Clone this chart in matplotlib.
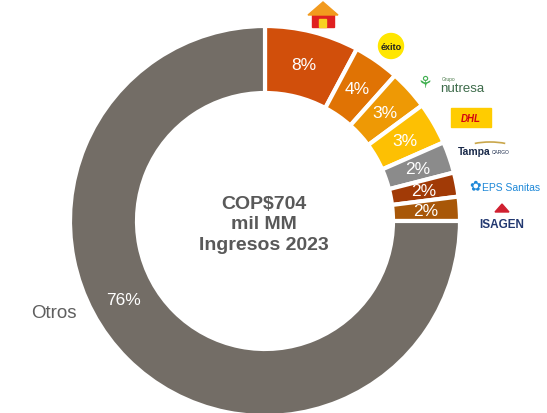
import numpy as np
import matplotlib.pyplot as plt
from matplotlib.patches import Circle, Rectangle, Polygon, Arc

plt.rcParams['font.family'] = ['Liberation Sans', 'DejaVu Sans']

# Data (slice sizes, labels as printed)
companies = ['Homecenter', 'éxito', 'nutresa', 'DHL', 'Tampa', 'EPS Sanitas', 'ISAGEN', 'Otros']
shares = [7.8, 3.8, 3.3, 3.5, 2.6, 2.0, 2.0, 75.0]
labels = ['8%', '4%', '3%', '3%', '2%', '2%', '2%', '76%']
colors = ['#D14F0B', '#E07304', '#EE9905', '#FDC003', '#8B8B8B', '#A13A06', '#A85708', '#736D66']

W, H = 547, 414
fig = plt.figure(figsize=(W / 100, H / 100), dpi=100)
ax = fig.add_axes([0, 0, 1, 1])

cx, cy = 265, H - 222
r_out, ring = 195, 67

wedges, _ = ax.pie(shares, colors=colors, startangle=90, counterclock=False,
                   center=(cx, cy), radius=r_out, frame=True,
                   wedgeprops=dict(width=ring, edgecolor='white', linewidth=3))
ax.set_xlim(0, W)
ax.set_ylim(0, H)
ax.set_aspect('equal')
ax.axis('off')

# percentage labels in the middle of the ring
r_lab = r_out - ring / 2
for w, lab in zip(wedges[:-1], labels[:-1]):
    ang = np.deg2rad((w.theta1 + w.theta2) / 2)
    ax.text(cx + r_lab * np.cos(ang), cy + r_lab * np.sin(ang), lab,
            ha='center', va='center', color='white', fontsize=12.5)
ang = np.deg2rad(-151)
ax.text(cx + r_lab * np.cos(ang), cy + r_lab * np.sin(ang), labels[-1],
        ha='center', va='center', color='white', fontsize=12.5)
ax.text(54, H - 313, companies[-1], ha='center', va='center', color='#5f5f5f', fontsize=13.5)

# centre text
ax.text(264, H - 225, 'COP$704\nmil MM\nIngresos 2023', ha='center', va='center',
        color='#595959', fontsize=14, fontweight='bold', linespacing=1.3)

# logo stand-ins
# house
ax.add_patch(Rectangle((312, H - 28), 22, 14, color='#E02020'))
ax.add_patch(Polygon([[308, H - 16], [323, H - 3], [338, H - 16]], color='#F29A1E'))
ax.add_patch(Rectangle((319, H - 28), 7, 8, color='#F8D020'))
# exito
ax.add_patch(Circle((391, H - 47), 12.5, color='#FFE600'))
ax.text(391, H - 47, 'éxito', ha='center', va='center', fontsize=6.5, fontweight='bold', color='#222222')
# nutresa
ax.text(425, H - 84, '⚘', ha='center', va='center', fontsize=12, color='#3FAF4F')
ax.text(442, H - 80, 'Grupo', ha='left', va='center', fontsize=3.5, color='#4a7a4a')
ax.text(440, H - 89, 'nutresa', ha='left', va='center', fontsize=9.5, color='#3d6b4a')
# DHL
ax.add_patch(Rectangle((451, H - 128), 40, 19, color='#FFCC00'))
ax.text(471, H - 119, 'DHL', ha='center', va='center', fontsize=7, fontweight='bold',
        fontstyle='italic', color='#D40511')
# Tampa cargo
ax.add_patch(Arc((490, H - 150), 50, 14, theta1=20, theta2=160, color='#C9A64A', lw=1.2))
ax.text(458, H - 152, 'Tampa', ha='left', va='center', fontsize=7.5, fontweight='bold', color='#1a2a4a')
ax.text(492, H - 153, 'CARGO', ha='left', va='center', fontsize=3.5, color='#1a2a4a')
# EPS Sanitas
ax.text(475, H - 186, '✿', ha='center', va='center', fontsize=10, color='#1E88D8')
ax.text(482, H - 188, 'EPS Sanitas', ha='left', va='center', fontsize=7.5, color='#1E88D8')
# ISAGEN
ax.text(502, H - 225, 'ISAGEN', ha='center', va='center', fontsize=8.5, fontweight='bold', color='#223870')
ax.add_patch(Polygon([[495, H - 213], [502, H - 205], [509, H - 213]], color='#D02030'))

fig.savefig('out.png', dpi=100)
